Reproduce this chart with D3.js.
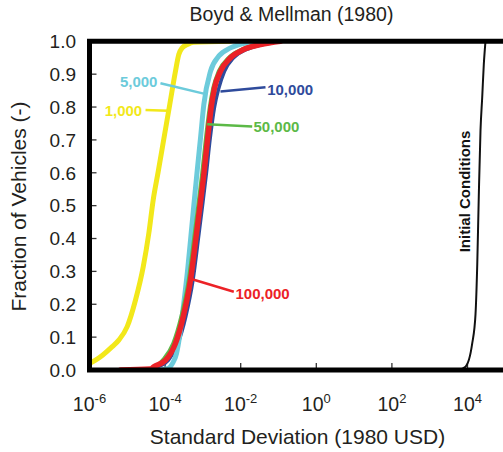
<!DOCTYPE html>
<html><head><meta charset="utf-8">
<script src="https://cdn.jsdelivr.net/npm/d3@7"></script>
<style>
html,body{margin:0;padding:0;background:#fff;}
svg{display:block;font-family:"Liberation Sans",Arial,Helvetica,sans-serif;}
</style></head>
<body><div id="chart"></div>
<script>
// ---- data (standard deviation in 1980 USD, cumulative fraction of vehicles) ----
const xTickValues = [1e-6, 1e-4, 1e-2, 1e0, 1e2, 1e4];
const xTickExponents = ["-6", "-4", "-2", "0", "2", "4"];
const yTickValues = [0, 0.1, 0.2, 0.3, 0.4, 0.5, 0.6, 0.7, 0.8, 0.9, 1.0];

const sd1000 = [1.0e-6, 1.44e-6, 2.21e-6, 3.99e-6, 5.96e-6, 9.93e-6, 1.65e-5, 2.64e-5, 3.71e-5, 4.84e-5, 6.49e-5, 9.35e-5, 1.33e-4, 1.88e-4, 2.30e-4, 2.83e-4, 3.86e-4, 5.63e-4, 5.37e-3];
const fr1000 = [0.02, 0.03, 0.045, 0.071, 0.091, 0.132, 0.213, 0.314, 0.416, 0.517, 0.6, 0.706, 0.808, 0.909, 0.96, 0.98, 0.99, 0.997, 1.0];

const sd5000 = [7.55e-5, 1.23e-4, 1.57e-4, 2.00e-4, 2.40e-4, 2.88e-4, 3.99e-4, 4.84e-4, 5.74e-4, 6.98e-4, 8.65e-4, 1.06e-3, 1.59e-3, 2.64e-3, 5.37e-3, 1.34e-2, 3.34e-2];
const fr5000 = [0, 0.005, 0.02, 0.05, 0.1, 0.17, 0.31, 0.41, 0.5, 0.6, 0.706, 0.808, 0.909, 0.955, 0.98, 0.995, 1.0];

const sd10000 = [5.51e-6, 4.11e-5, 6.68e-5, 1.23e-4, 2.19e-4, 3.51e-4, 5.47e-4, 7.89e-4, 9.75e-4, 1.24e-3, 1.54e-3, 2.03e-3, 2.64e-3, 3.72e-3, 6.46e-3, 1.42e-2, 3.78e-2, 0.128];
const fr10000 = [0, 0.002, 0.01, 0.03, 0.081, 0.162, 0.274, 0.416, 0.5, 0.6, 0.7, 0.8, 0.858, 0.909, 0.95, 0.975, 0.99, 1.0];

const sd50000 = [1.22e-5, 4.65e-5, 8.53e-5, 1.62e-4, 2.64e-4, 4.16e-4, 6.00e-4, 7.41e-4, 9.46e-4, 1.17e-3, 1.50e-3, 1.85e-3, 2.59e-3, 4.75e-3, 1.05e-2, 2.96e-2, 0.1];
const fr50000 = [0, 0.005, 0.03, 0.081, 0.162, 0.274, 0.416, 0.5, 0.6, 0.7, 0.8, 0.858, 0.909, 0.95, 0.975, 0.99, 1.0];

const sd100000 = [6.61e-6, 4.11e-5, 5.02e-5, 1.03e-4, 1.88e-4, 3.01e-4, 4.70e-4, 6.78e-4, 8.38e-4, 1.07e-3, 1.32e-3, 1.66e-3, 2.03e-3, 2.92e-3, 5.37e-3, 1.19e-2, 3.34e-2, 0.113];
const fr100000 = [0, 0.003, 0.01, 0.03, 0.081, 0.162, 0.274, 0.416, 0.5, 0.6, 0.7, 0.8, 0.858, 0.909, 0.95, 0.975, 0.99, 1.0];

const sdInitial = [5.78e3, 8.85e3, 1.33e4, 1.63e4, 1.81e4, 1.99e4, 2.21e4, 2.45e4, 2.70e4, 2.99e4];
const frInitial = [0, 0.01, 0.08, 0.17, 0.32, 0.53, 0.73, 0.83, 0.93, 1.0];

// series: name, values, colours, and label anchor (data coords on the curve)
const seriesNames = ["1,000", "10,000", "5,000", "50,000", "100,000"];
const seriesX = [sd1000, sd10000, sd5000, sd50000, sd100000];
const seriesY = [fr1000, fr10000, fr5000, fr50000, fr100000];
const seriesColors = ["#f2e81a", "#2f4b9c", "#6ccbdb", "#5cb947", "#ec2227"];
const seriesWidths = [5, 3.5, 5, 3.5, 5.5];
const anchorX = [1.18e-4, 2.92e-3, 1.12e-3, 1.30e-3, 5.21e-4];
const anchorY = [0.789, 0.847, 0.840, 0.748, 0.276];

// ---- layout ----
const W = 503, H = 452;
const svg = d3.select("#chart").append("svg").attr("width", W).attr("height", H);

const x = d3.scaleLog().domain([1e-6, 1e5]).range([89.5, 505.3]);
const y = d3.scaleLinear().domain([0, 1]).range([370, 41.3]);
const textColor = "#231f20";

const defs = svg.append("defs");
defs.append("clipPath").attr("id", "plotclip")
  .append("rect").attr("x", 89.5).attr("y", 41.3).attr("width", W).attr("height", 370 - 41.3);

// title
svg.append("text").attr("x", 291.5).attr("y", 20.5).attr("text-anchor", "middle")
  .attr("font-size", 19.5).attr("fill", textColor).text("Boyd & Mellman (1980)");

// y axis tick labels
svg.append("g").selectAll("text").data(yTickValues).join("text")
  .attr("x", 76).attr("y", d => y(d)).attr("dy", "0.36em")
  .attr("text-anchor", "end").attr("font-size", 19).attr("fill", textColor)
  .text(d => d3.format(".1f")(d));

// y ticks (inward)
svg.append("g").selectAll("line").data(yTickValues).join("line")
  .attr("x1", 89.5).attr("x2", 96.5).attr("y1", d => y(d)).attr("y2", d => y(d))
  .attr("stroke", "#333").attr("stroke-width", 1.3);

// x ticks (inward)
svg.append("g").selectAll("line").data(xTickValues).join("line")
  .attr("x1", d => x(d)).attr("x2", d => x(d)).attr("y1", 370).attr("y2", 363)
  .attr("stroke", "#333").attr("stroke-width", 1.3);

// x tick labels with superscript
const xl = svg.append("g").selectAll("text").data(xTickValues).join("text")
  .attr("x", d => x(d)).attr("y", 410.5).attr("text-anchor", "middle")
  .attr("font-size", 19.5).attr("fill", textColor);
xl.append("tspan").text("10");
xl.append("tspan").attr("dy", -8).attr("font-size", 13).text((d, i) => xTickExponents[i]);

// axis titles
svg.append("text").attr("x", 297.5).attr("y", 443.5).attr("text-anchor", "middle")
  .attr("font-size", 21).attr("fill", textColor).text("Standard Deviation (1980 USD)");
svg.append("text").attr("transform", "translate(26,206.5) rotate(-90)")
  .attr("text-anchor", "middle").attr("font-size", 21).attr("fill", textColor)
  .text("Fraction of Vehicles (-)");

// curves
const line = d3.line().x(d => x(d[0])).y(d => y(d[1])).curve(d3.curveMonotoneX);
const plot = svg.append("g").attr("clip-path", "url(#plotclip)");

plot.append("path").datum(d3.zip(sdInitial, frInitial)).attr("d", line)
  .attr("fill", "none").attr("stroke", "#111").attr("stroke-width", 2);

seriesNames.forEach((name, i) => {
  plot.append("path").datum(d3.zip(seriesX[i], seriesY[i])).attr("d", line)
    .attr("fill", "none").attr("stroke", seriesColors[i]).attr("stroke-width", seriesWidths[i])
    .attr("stroke-linejoin", "round").attr("stroke-linecap", "round");
});

// labels with leader lines (offsets in px from the anchor on the curve)
const leaderOffsets = [[-22.3, -0.7], [45, -4.4], [-44.3, -10.7], [45, 2.4], [41.6, 12.4]];
const textOffsets = [[-25.6, 5.0], [46.7, 3.0], [-47.3, -6.5], [46.3, 7.7], [43.3, 20.2]];
const textAnchors = ["end", "start", "end", "start", "start"];
const ann = svg.append("g");
seriesNames.forEach((name, i) => {
  const ax = x(anchorX[i]), ay = y(anchorY[i]);
  ann.append("line").attr("x1", ax).attr("y1", ay)
    .attr("x2", ax + leaderOffsets[i][0]).attr("y2", ay + leaderOffsets[i][1])
    .attr("stroke", seriesColors[i]).attr("stroke-width", 2.5);
  ann.append("text").attr("x", ax + textOffsets[i][0]).attr("y", ay + textOffsets[i][1])
    .attr("text-anchor", textAnchors[i]).attr("font-size", 15).attr("font-weight", "bold")
    .attr("fill", seriesColors[i]).text(name);
});

// initial conditions label
svg.append("text")
  .attr("transform", `translate(${x(8.33e3)},${y(0.543)}) rotate(-90)`)
  .attr("dy", "0.36em").attr("text-anchor", "middle")
  .attr("font-size", 15).attr("font-weight", "bold").attr("fill", "#111")
  .text("Initial Conditions");

// frame
svg.append("path")
  .attr("d", `M${W + 10},41.3 H89.5 V370 H${W + 10}`)
  .attr("fill", "none").attr("stroke", "#000").attr("stroke-width", 5);
</script></body></html>
